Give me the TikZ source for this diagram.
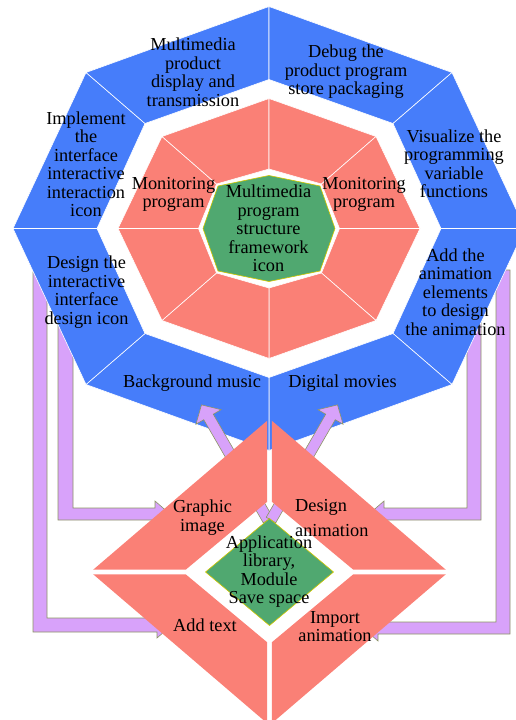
\documentclass[tikz,border=0pt]{standalone}
\usepackage{fontspec}
\setmainfont{Liberation Serif}
\usepackage{tikz}
\usetikzlibrary{calc,positioning}
\definecolor{secblue}{RGB}{70,125,250}
\definecolor{secpink}{RGB}{250,128,118}
\definecolor{secgreen}{RGB}{80,168,112}
\definecolor{arrlilac}{RGB}{216,162,250}
\definecolor{arredge}{RGB}{140,150,100}
\tikzset{
	bluesec/.style={fill=secblue,draw=white,line width=0.6pt},
	pinksec/.style={fill=secpink,draw=white,line width=0.6pt},
	coresec/.style={fill=secgreen,draw=yellow!60!olive,line width=0.6pt},
	lilac/.style={fill=arrlilac,draw=arredge,line width=0.6pt,line join=miter},
	lbl/.style={align=center,font=\fontsize{18.3}{18.5}\selectfont,inner sep=0pt}
}
% octagon corners round (C): name, rx, ry, dx, dy
\newcommand{\octverts}[5]{%
	\path (C) ++(#2,0) coordinate (#1-0)
	(C) ++(#4,#5) coordinate (#1-1)
	(C) ++(0,#3) coordinate (#1-2)
	(C) ++(-#4,#5) coordinate (#1-3)
	(C) ++(-#2,0) coordinate (#1-4)
	(C) ++(-#4,-#5) coordinate (#1-5)
	(C) ++(0,-#3) coordinate (#1-6)
	(C) ++(#4,-#5) coordinate (#1-7);}

\begin{document}
\begin{tikzpicture}[x=1pt,y=-1pt]
	\useasboundingbox (0,0) rectangle (516,720);
	\clip (0,0) rectangle (516,720);
	
	\coordinate (C) at (269,228.5);
	\coordinate (D) at (269.5,572);
	
	%Fleches coudees (sous l'octogone)
	\filldraw[lilac] (33,272) -- (47,272) -- (47,618) -- (157,618) -- (157,612) -- (172,625) -- (157,638) -- (157,632) -- (33,632) -- cycle;
	\filldraw[lilac] (58,300) -- (73,300) -- (73,508) -- (155,508) -- (155,501) -- (170,514) -- (155,527) -- (155,520) -- (58,520) -- cycle;
	\filldraw[lilac] (481,300) -- (467,300) -- (467,508) -- (384,508) -- (384,501) -- (369,514) -- (384,527) -- (384,520) -- (481,520) -- cycle;
	\filldraw[lilac] (510,270) -- (496,270) -- (496,622) -- (378,622) -- (378,615) -- (363,628) -- (378,641) -- (378,634) -- (510,634) -- cycle;
	
	%Octogones
	\octverts{bo}{256}{222}{183}{156}
	\octverts{bi}{172}{149}{124}{105}
	\octverts{po}{151}{130}{107}{92}
	\octverts{pi}{70.5}{59.5}{52.5}{44.5}
	\octverts{gc}{66}{53}{51}{42.5}
	
	\foreach \i [evaluate=\i as \j using {int(mod(\i+1,8))}] in {0,...,7}{
		\filldraw[bluesec] (bo-\i) -- (bo-\j) -- (bi-\j) -- (bi-\i) -- cycle;
		\filldraw[pinksec] (po-\i) -- (po-\j) -- (pi-\j) -- (pi-\i) -- cycle;
	}
	\filldraw[coresec] (gc-0) \foreach \i in {1,...,7}{ -- (gc-\i)} -- cycle;
	
	%Fleches vers le haut
	\begin{scope}[shift={(268,520)},rotate=120]
		\filldraw[lilac] (0,-5.5) -- (119,-5.5) -- (119,-14.5) -- (133,0) -- (119,14.5) -- (119,5.5) -- (0,5.5) -- cycle;
	\end{scope}
	\begin{scope}[shift={(271,520)},rotate=60]
		\filldraw[lilac] (0,-5.5) -- (119,-5.5) -- (119,-14.5) -- (133,0) -- (119,14.5) -- (119,5.5) -- (0,5.5) -- cycle;
	\end{scope}
	
	%Losange
	\begin{scope}[shift={(D)}]
		\foreach \sx/\sy in {-1/-1,1/-1,-1/1,1/1}
		\fill[secpink,shift={(2.3*\sx,2.3*\sy)}] (174*\sx,0) -- (0,149*\sy) -- (0,68*\sy) -- (81.5*\sx,0) -- cycle;
	\end{scope}
	\filldraw[coresec] ($(D)+(0,-53.5)$) -- ($(D)+(64,0)$) -- ($(D)+(0,53.5)$) -- ($(D)+(-64,0)$) -- cycle;
	
	%Textes de l'octogone
	\node[lbl] (dispTx) at (193,72) {Multimedia\\product\\display and\\transmission};
	\node[lbl] (debugTx) at (346,72) {Debug the\\product program\\store packaging};
	\node[lbl] (visuTx) at (454,163.5) {Visualize the\\programming\\variable\\functions};
	\node[lbl] (animTx) at (455.5,292) {Add the\\animation\\elements\\to design\\the animation};
	\node[lbl] (movTx) at (342.5,383) {Digital movies};
	\node[lbl] (musTx) at (192,383) {Background music};
	\node[lbl] (iconTx) at (86.5,292) {Design the\\interactive\\interface\\design icon};
	\node[lbl] (implTx) at (86,164) {Implement\\the\\interface\\interactive\\interaction\\icon};
	\node[lbl] (monL) at (173.5,194.5) {Monitoring\\program};
	\node[lbl] (monR) at (364,194.5) {Monitoring\\program};
	\node[lbl] (coreTx) at (268.5,228.5) {Multimedia\\program\\structure\\framework\\icon};
	
	%Textes du losange
	\node[lbl] (graphTx) at (202.5,517.5) {Graphic\\image};
	\node[lbl,align=left,anchor=west] (designTx) at (295,518) {Design\\[7pt]animation};
	\node[lbl] (libTx) at (269,571.5) {Application\\library,\\Module\\Save space};
	\node[lbl] (textTx) at (205,625.5) {Add text};
	\node[lbl] (importTx) at (335,626.5) {Import\\animation};
	
\end{tikzpicture}
\end{document}
